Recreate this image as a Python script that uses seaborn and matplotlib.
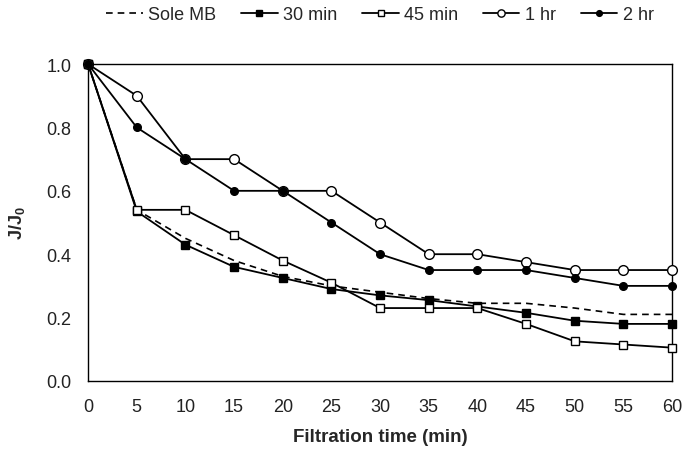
import matplotlib
matplotlib.use("Agg")
import matplotlib.pyplot as plt
import seaborn as sns
import pandas as pd

time = [0, 5, 10, 15, 20, 25, 30, 35, 40, 45, 50, 55, 60]
sole_mb = [1.0, 0.54, 0.45, 0.38, 0.33, 0.30, 0.28, 0.26, 0.245, 0.245, 0.23, 0.21, 0.21]
min30 = [1.0, 0.535, 0.43, 0.36, 0.325, 0.29, 0.27, 0.255, 0.235, 0.215, 0.19, 0.18, 0.18]
min45 = [1.0, 0.54, 0.54, 0.46, 0.38, 0.31, 0.23, 0.23, 0.23, 0.18, 0.125, 0.115, 0.105]
hr1 = [1.0, 0.9, 0.7, 0.7, 0.6, 0.6, 0.5, 0.4, 0.4, 0.375, 0.35, 0.35, 0.35]
hr2 = [1.0, 0.8, 0.7, 0.6, 0.6, 0.5, 0.4, 0.35, 0.35, 0.35, 0.325, 0.3, 0.3]

series_names = ["Sole MB", "30 min", "45 min", "1 hr", "2 hr"]
series_values = [sole_mb, min30, min45, hr1, hr2]

sns.set_theme(style="white")
plt.rcParams['font.family'] = ['Liberation Sans', 'DejaVu Sans']
plt.rcParams['mathtext.fontset'] = 'custom'
plt.rcParams['mathtext.bf'] = 'Liberation Sans:bold'
plt.rcParams['mathtext.rm'] = 'Liberation Sans'

fig = plt.figure(figsize=(6.83, 4.52), dpi=100)
ax = fig.add_axes([0.129, 0.155, 0.855, 0.701])

styles = {
    "Sole MB": dict(marker=None, linestyle=(0, (4, 3)), mfc='black', ms=0, lw=1.2),
    "30 min": dict(marker='s', linestyle='-', mfc='black', ms=6, lw=1.3),
    "45 min": dict(marker='s', linestyle='-', mfc='white', ms=6, lw=1.3),
    "1 hr": dict(marker='o', linestyle='-', mfc='white', ms=7, lw=1.3),
    "2 hr": dict(marker='o', linestyle='-', mfc='black', ms=5.5, lw=1.3),
}

for name, vals in zip(series_names, series_values):
    df = pd.DataFrame({"time": time, "val": vals})
    st = styles[name]
    sns.lineplot(data=df, x="time", y="val", ax=ax, color='black',
                 marker=st['marker'], linestyle=st['linestyle'],
                 markerfacecolor=st['mfc'], markeredgecolor='black',
                 markersize=st['ms'], markeredgewidth=1.0,
                 linewidth=st['lw'], label=name, clip_on=False, zorder=3)

ax.set_xlim(0, 60)
ax.set_ylim(0, 1.0)
ax.set_xticks(time)
ax.set_yticks([0.0, 0.2, 0.4, 0.6, 0.8, 1.0])
ax.set_yticklabels(["0.0", "0.2", "0.4", "0.6", "0.8", "1.0"])
ax.tick_params(axis='both', length=0, labelsize=13, colors='#222222')
ax.tick_params(axis='x', pad=12)
ax.tick_params(axis='y', pad=12)
for sp in ax.spines.values():
    sp.set_color('black')
    sp.set_linewidth(1.0)

ax.set_xlabel("Filtration time (min)", fontsize=13.5, fontweight='bold', labelpad=10)
ax.set_ylabel("J/J$\\mathbf{_0}$", fontsize=13, fontweight='bold', labelpad=14)

leg = ax.legend(loc='center', bbox_to_anchor=(0.5, 1.155), ncol=5, frameon=False,
                fontsize=13, handlelength=2.0, columnspacing=1.4, handletextpad=0.3,
                borderaxespad=0, markerscale=0.75)

fig.savefig("out.png", dpi=100)
